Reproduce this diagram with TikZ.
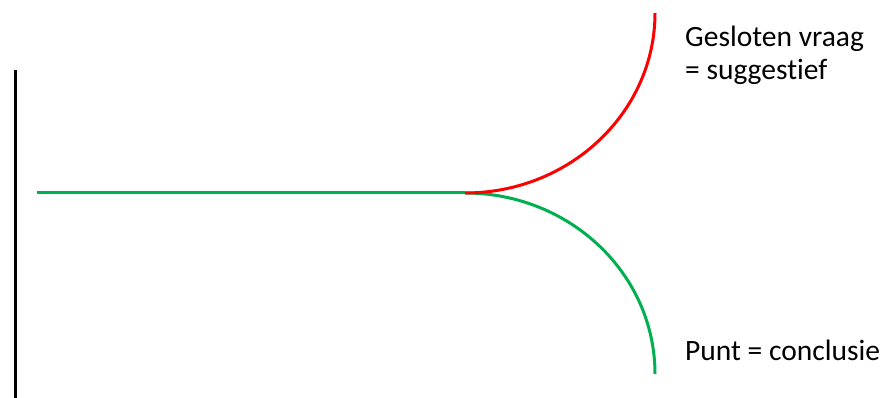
\documentclass[tikz,border=0pt]{standalone}
\usepackage{fontspec}
\setmainfont{Carlito}[Ligatures=NoCommon]
\definecolor{lgreen}{RGB}{0,176,80}
\definecolor{lred}{RGB}{255,0,0}
\begin{document}
\begin{tikzpicture}[x=1pt,y=-1pt,
  lbl/.style={anchor=base west,inner sep=0pt,font=\fontsize{29.5}{33}\selectfont},
  wire/.style={line width=3pt}]
\useasboundingbox (0,0) rectangle (881,398);
\coordinate (vt) at (15,70);
\coordinate (vb) at (15,398);
\coordinate (s) at (37,193);
\coordinate (f) at (465,193);
\coordinate (r) at (655,13);
\coordinate (g) at (655,374);
\draw[line width=3pt,black] (vt) -- (vb);
\draw[wire,lgreen] (s) -- (f);
\draw[wire,lgreen] (f) .. controls (570,193) and (655,274) .. (g);
\draw[wire,lred] (f) .. controls (570,193) and (655,112) .. (r);
\node[lbl] (t1) at (685,47) {Gesloten vraag};
\node[lbl] (t2) at (685,80) {= suggestief};
\node[lbl] (t3) at (685,360) {Punt = conclusie};
\end{tikzpicture}
\end{document}
